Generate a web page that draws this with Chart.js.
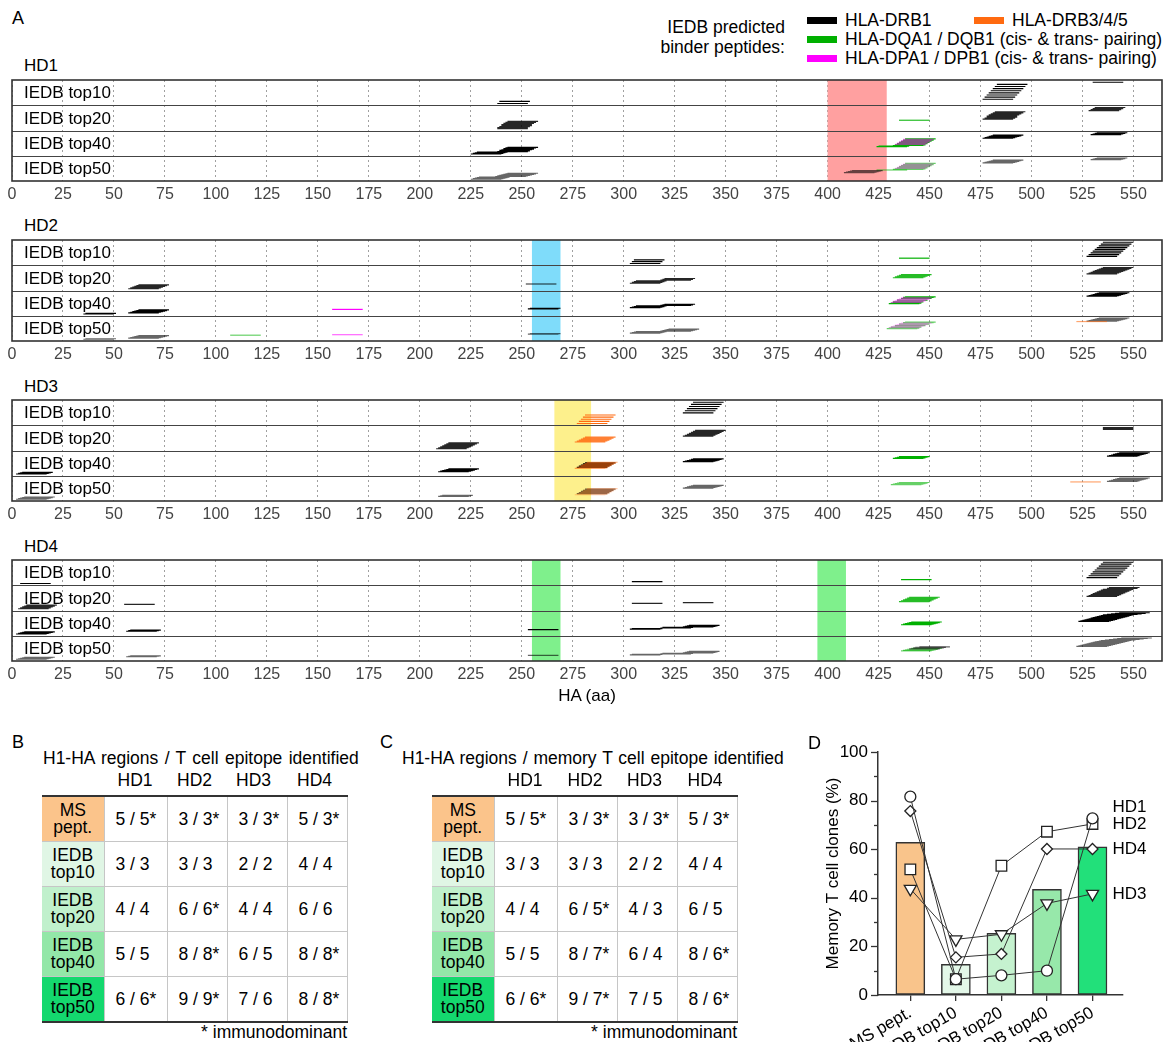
<!DOCTYPE html>
<html lang="en">
<head>
<meta charset="UTF-8" />
<title>HA peptide map</title>
<script src="https://cdn.jsdelivr.net/npm/chart.js@4.4.0/dist/chart.umd.min.js"></script>
<style>
  html, body { margin: 0; background: #fff; }
  body { font-family: "Liberation Sans", Arial, Helvetica, sans-serif; color: #000; }
  #page { position: relative; width: 1163px; height: 1042px; overflow: hidden; }
  .t { position: absolute; white-space: nowrap; line-height: 1; font-size: 17px; }
  .leg { font-size: 17.5px; }
  .letter { font-size: 18px; }
  .sw { position: absolute; width: 30px; height: 7px; }
  canvas { position: absolute; left: 0; }
  table.ep { position: absolute; border-collapse: collapse; table-layout: fixed; font-size: 17.5px; }
  table.ep td { border: 1px solid #c6c6c6; height: 44px; padding: 0 0 0 11px; text-align: left; white-space: nowrap; }
  table.ep td.rh { text-align: center; padding: 0; line-height: 17px; border-left: none; }
  table.ep tr:first-child td { border-top: 2px solid #333; }
  table.ep tr:last-child td { border-bottom: 2px solid #333; }
</style>
</head>
<body>
<div id="page">
  <div class="t letter" style="left:12px;top:9px">A</div>

  <div class="t leg" style="right:378px;top:18.5px">IEDB predicted</div>
  <div class="t leg" style="right:378px;top:38.5px">binder peptides:</div>
  <div class="sw" style="left:807px;top:16.5px;background:#000"></div>
  <div class="t leg" style="left:845px;top:11.5px">HLA-DRB1</div>
  <div class="sw" style="left:974px;top:16.5px;background:#ff6a10"></div>
  <div class="t leg" style="left:1012px;top:11.5px">HLA-DRB3/4/5</div>
  <div class="sw" style="left:807px;top:35.5px;background:#00b000"></div>
  <div class="t leg" style="left:845px;top:30.5px">HLA-DQA1 / DQB1 (cis- &amp; trans- pairing)</div>
  <div class="sw" style="left:807px;top:54.5px;background:#ff00ff"></div>
  <div class="t leg" style="left:845px;top:49.5px">HLA-DPA1 / DPB1 (cis- &amp; trans- pairing)</div>

  <div class="t" style="left:24px;top:56.5px">HD1</div>
  <div class="t" style="left:24px;top:216.5px">HD2</div>
  <div class="t" style="left:24px;top:377.5px">HD3</div>
  <div class="t" style="left:24px;top:537.5px">HD4</div>
  <canvas id="hd1" width="1163" height="139" style="top:70px"></canvas>
  <canvas id="hd2" width="1163" height="139" style="top:230px"></canvas>
  <canvas id="hd3" width="1163" height="139" style="top:390px"></canvas>
  <canvas id="hd4" width="1163" height="139" style="top:550px"></canvas>
  <div class="t" style="left:587px;top:686.5px;transform:translateX(-50%)">HA (aa)</div>

  <div class="t letter" style="left:12px;top:733px">B</div>
  <div class="t leg" style="left:43px;top:749.5px;word-spacing:1.5px">H1-HA regions / T cell epitope identified</div>
  <div id="headB"></div>
  <table class="ep" id="tableB" style="left:42px;top:795px"></table>
  <div class="t leg" style="right:816px;top:1023.5px">* immunodominant</div>

  <div class="t letter" style="left:380px;top:733px">C</div>
  <div class="t leg" style="left:402px;top:749.5px;word-spacing:1px">H1-HA regions / memory T cell epitope identified</div>
  <div id="headC"></div>
  <table class="ep" id="tableC" style="left:432px;top:795px"></table>
  <div class="t leg" style="right:426px;top:1023.5px">* immunodominant</div>

  <div class="t letter" style="left:808px;top:734px">D</div>
  <canvas id="panelD" width="373" height="400" style="left:790px;top:700px"></canvas>
</div>

<script>
// ---------- data ----------
const PEP_LEN = 15;
const AXIS_MAX = 564;
const ROW_NAMES = ['IEDB top10', 'IEDB top20', 'IEDB top40', 'IEDB top50'];

// each row: list of [allele class, peptide start positions]
const HD1_ROWS = [
  [['DRB1', [238, 239]], ['DRB1', [476, 477, 478, 479, 480, 481, 482, 483]], ['DRB1', [530]]],
  [['DRB1', [238, 238, 239, 240, 240, 241, 242, 243]], ['DQ', [435]], ['DRB1', [476, 477, 478, 478, 479, 480, 481, 482]], ['DRB1', [528, 529, 530, 531]]],
  [['DRB1', [225, 226, 227, 228, 238, 239, 239, 240, 241, 241, 242, 243]], ['DQ', [424, 425]], ['DQ', [432, 433, 434, 435, 436, 437, 438]], ['DP', [433, 434, 435, 436, 437]], ['DRB1', [476, 477, 478, 479, 480, 481]], ['DRB1', [529, 530, 531, 532]]],
  [['DRB1', [225, 226, 227, 228, 229, 237, 238, 239, 240, 241, 242, 243]], ['DRB1', [408, 409, 410, 411, 412]], ['DQ', [424]], ['DQ', [432, 433, 434, 435, 436, 437, 438]], ['DP', [433, 434, 435, 436, 437]], ['DRB1', [476, 477, 478, 479, 480, 481]], ['DRB1', [529, 530, 531, 532]]]
];
const HD2_ROWS = [
  [['DRB1', [303, 304, 305]], ['DQ', [435]], ['DRB1', [527, 528, 529, 530, 531, 532, 533, 534, 535]]],
  [['DRB1', [57, 58, 59, 60, 61, 62]], ['DRB1', [252]], ['DRB1', [303, 304, 305, 306, 318, 319, 320]], ['DQ', [432, 433, 434, 435, 436]], ['DRB1', [527, 528, 529, 530, 531, 532, 533, 534, 535]]],
  [['DRB1', [35, 36]], ['DRB1', [57, 58, 59, 60, 61, 62]], ['DP', [157]], ['DRB1', [253, 254]], ['DRB1', [303, 304, 305, 306, 318, 319, 320]], ['DQ', [430, 431, 432, 434, 436, 437, 438]], ['DP', [431, 432, 433, 434, 435, 436]], ['DRB1', [527, 528, 529, 530, 531, 532, 533]]],
  [['DRB1', [35, 36]], ['DRB1', [57, 58, 59, 60, 61, 62]], ['DQ', [107]], ['DP', [157]], ['DRB1', [253, 254]], ['DRB1', [303, 304, 305, 306, 318, 319, 320, 321, 322]], ['DQ', [429, 430, 431, 433, 435, 437, 438]], ['DP', [430, 431, 432, 433, 434, 435, 436]], ['DRB345', [522]], ['DRB1', [527, 528, 529, 530, 531, 532, 533]]]
];
const HD3_ROWS = [
  [['DRB345', [277, 278, 279, 280, 281]], ['DRB1', [329, 330, 331, 332, 333, 334]]],
  [['DRB1', [208, 209, 210, 211, 212, 213, 214]], ['DRB345', [276, 277, 278, 279, 280, 281]], ['DRB1', [329, 330, 331, 332, 333, 334, 335]], ['DRB1', [535, 535, 535]]],
  [['DRB1', [2, 3, 4, 5]], ['DRB1', [209, 210, 211, 212, 213, 214]], ['DRB345', [276, 277, 278, 279, 280, 281, 282]], ['DRB1', [277, 278, 279, 280, 281]], ['DRB1', [329, 330, 331, 332, 333, 334]], ['DQ', [432, 433, 434, 435]], ['DRB1', [537, 538, 539, 540, 541, 542, 543]]],
  [['DRB1', [2, 3, 4, 5, 6]], ['DRB1', [209, 210, 211]], ['DRB345', [276, 277, 278, 279, 280, 281, 282]], ['DRB1', [277, 278, 279, 280, 281]], ['DRB1', [329, 330, 331, 332, 333, 334]], ['DQ', [431, 432, 433, 434, 435]], ['DRB345', [519]], ['DRB1', [537, 538, 539, 540, 541, 542, 543]]]
];
const HD4_ROWS = [
  [['DRB1', [4]], ['DRB1', [304]], ['DQ', [436]], ['DRB1', [527, 528, 529, 530, 531, 532, 533, 534, 535]]],
  [['DRB1', [3, 4, 5, 6, 7]], ['DRB1', [55]], ['DRB1', [304]], ['DRB1', [329]], ['DQ', [435, 436, 437, 438, 439, 440]], ['DRB1', [527, 528, 529, 530, 531, 532, 533, 534, 535, 537, 538]]],
  [['DRB1', [2, 3, 4, 5, 6]], ['DRB1', [56, 57, 58]], ['DRB1', [253]], ['DRB1', [303, 304, 318, 319, 329, 330, 331, 332]], ['DQ', [436, 437, 438, 439, 440, 441]], ['DRB1', [523, 524, 525, 526, 527, 528, 529, 530, 531, 532, 533, 534, 535, 537, 539, 541, 543]]],
  [['DRB1', [2, 3, 4, 5, 6]], ['DRB1', [56, 57, 58]], ['DRB1', [253]], ['DRB1', [303, 304, 318, 319, 329, 330, 331, 332]], ['DQ', [436, 437, 438, 439, 441]], ['DRB1', [440, 442, 443, 445]], ['DRB1', [522, 523, 524, 525, 526, 527, 528, 529, 530, 531, 532, 533, 534, 536, 538, 540, 542, 544]]]
];
// identified epitope regions [start, end]
const HD1_REGIONS = [[400, 429]];
const HD2_REGIONS = [[255, 269]];
const HD3_REGIONS = [[266, 284]];
const HD4_REGIONS = [[255, 269], [395, 409]];

const TABLE_ROWS = ['MS<br>pept.', 'IEDB<br>top10', 'IEDB<br>top20', 'IEDB<br>top40', 'IEDB<br>top50'];
const TABLE_COLS = ['HD1', 'HD2', 'HD3', 'HD4'];
const TABLE_B = [
  ['5 / 5*', '3 / 3*', '3 / 3*', '5 / 3*'],
  ['3 / 3', '3 / 3', '2 / 2', '4 / 4'],
  ['4 / 4', '6 / 6*', '4 / 4', '6 / 6'],
  ['5 / 5', '8 / 8*', '6 / 5', '8 / 8*'],
  ['6 / 6*', '9 / 9*', '7 / 6', '8 / 8*']
];
const TABLE_C = [
  ['5 / 5*', '3 / 3*', '3 / 3*', '5 / 3*'],
  ['3 / 3', '3 / 3', '2 / 2', '4 / 4'],
  ['4 / 4', '6 / 5*', '4 / 3', '6 / 5'],
  ['5 / 5', '8 / 7*', '6 / 4', '8 / 6*'],
  ['6 / 6*', '9 / 7*', '7 / 5', '8 / 6*']
];

const D_CATS = ['MS pept.', 'IEDB top10', 'IEDB top20', 'IEDB top40', 'IEDB top50'];
const D_MEAN = [62.8, 12.6, 25.4, 43.5, 61.0];
const D_HD1 = [81.6, 6.5, 8.1, 10.0, 72.7];
const D_HD2 = [51.7, 6.5, 53.2, 67.2, 70.4];
const D_HD3 = [43.7, 22.9, 25.0, 37.7, 41.6];
const D_HD4 = [75.7, 15.5, 16.9, 60.1, 60.1];

// ---------- styles ----------
const FONT = '"Liberation Sans", Arial, Helvetica, sans-serif';
const CLASS_COLORS = { DRB1: '#000000', DRB345: '#ff6a10', DQ: '#00b000', DP: '#ff00ff' };
const CLASS_ORDER = { DP: 0, DRB345: 1, DRB1: 2, DQ: 3 };
const MIX_ALPHA = { DRB1: 1, DRB345: 0.6, DQ: 1, DP: 0.5 };   // where classes overlap
const ROW_ALPHA = [1, 0.85, 1, 0.6];
const HEADER_COLORS = ['#fbc48b', '#e0f6e5', '#c0f0cc', '#93e7a8', '#14d86e'];
const BAR_COLORS = ['#f9c48b', '#e3f7e8', '#c5f2cf', '#97e8aa', '#22e07a'];

Chart.defaults.font.family = FONT;
Chart.defaults.color = '#000';
Chart.defaults.animation = false;
Chart.defaults.plugins.legend.display = false;
Chart.defaults.plugins.tooltip.enabled = false;

function rgba(hex, a) {
  const n = parseInt(hex.slice(1), 16);
  return 'rgba(' + (n >> 16 & 255) + ',' + (n >> 8 & 255) + ',' + (n & 255) + ',' + a + ')';
}

function framePlugin(regions, regionColor) {
  return {
    id: 'frame',
    beforeDatasetsDraw(chart) {
      const { ctx, chartArea: a, scales: { x } } = chart;
      ctx.save();
      ctx.fillStyle = regionColor;
      regions.forEach(([s, e]) => {
        const x0 = x.getPixelForValue(s), x1 = x.getPixelForValue(e);
        ctx.fillRect(x0, a.top, x1 - x0, a.bottom - a.top);
      });
      ctx.restore();
    },
    afterDatasetsDraw(chart) {
      const { ctx, chartArea: a, scales: { y } } = chart;
      ctx.save();
      ctx.strokeStyle = '#444';
      ctx.lineWidth = 1.2;
      for (let v = 1; v <= 3; v++) {
        const py = Math.round(y.getPixelForValue(v)) + 0.5;
        ctx.beginPath(); ctx.moveTo(a.left, py); ctx.lineTo(a.right, py); ctx.stroke();
      }
      ctx.strokeStyle = '#333';
      ctx.lineWidth = 1.6;
      ctx.strokeRect(a.left, a.top, a.right - a.left, a.bottom - a.top);
      ctx.fillStyle = '#000';
      ctx.font = '17px ' + FONT;
      ctx.textBaseline = 'middle';
      ROW_NAMES.forEach((name, r) => ctx.fillText(name, a.left + 12, y.getPixelForValue(3.5 - r) + 1));
      ctx.restore();
    }
  };
}

function peptideChart(id, rows, regions, regionColor) {
  const datasets = [];
  rows.forEach((clusters, r) => {
    const peps = [];
    clusters.forEach(([cls, starts]) => starts.forEach(s => peps.push({ cls, s })));
    peps.sort((a, b) => a.s - b.s);
    const n = peps.length, groups = {};
    peps.forEach((p, i) => {
      // stacked by rank along the sequence, bottom to top of the row
      const y = 3 - r + 0.07 + 0.84 * (n > 1 ? i / (n - 1) : 0);
      const mixed = peps.some(q => q.cls !== p.cls && Math.abs(q.s - p.s) <= 3);
      const key = p.cls + (mixed ? '|mix' : '');
      (groups[key] = groups[key] || []).push({ x: p.s, y }, { x: p.s + PEP_LEN, y }, { x: p.s + PEP_LEN, y: null });
    });
    Object.keys(groups).forEach(key => {
      const [cls, mix] = key.split('|');
      datasets.push({
        data: groups[key], showLine: true, spanGaps: false, pointRadius: 0, borderWidth: 1.2,
        borderColor: rgba(CLASS_COLORS[cls], ROW_ALPHA[r] * (mix ? MIX_ALPHA[cls] : 1)),
        order: CLASS_ORDER[cls]
      });
    });
  });
  new Chart(document.getElementById(id), {
    type: 'scatter',
    data: { datasets },
    options: {
      responsive: false,
      devicePixelRatio: 1,
      layout: { padding: { left: 12, right: 1, top: 10, bottom: 0 } },
      scales: {
        x: {
          type: 'linear', min: 0, max: AXIS_MAX,
          afterFit: s => { s.height = 28; },
          ticks: { stepSize: 25, includeBounds: false, padding: 4, color: '#444', font: { size: 16 }, maxRotation: 0, autoSkip: false },
          grid: { color: '#a0a0a0', lineWidth: 1, drawTicks: false },
          border: { display: false, dash: [2, 3] }
        },
        y: { type: 'linear', min: 0, max: 4, display: false }
      }
    },
    plugins: [framePlugin(regions, regionColor)]
  });
}

peptideChart('hd1', HD1_ROWS, HD1_REGIONS, '#ffa0a0');
peptideChart('hd2', HD2_ROWS, HD2_REGIONS, '#7fdcfa');
peptideChart('hd3', HD3_ROWS, HD3_REGIONS, '#fdf08c');
peptideChart('hd4', HD4_ROWS, HD4_REGIONS, '#7ff08c');

// ---------- tables ----------
function buildTable(tableId, headId, values, headCenters) {
  const t = document.getElementById(tableId);
  t.innerHTML = '<colgroup><col style="width:62px"><col style="width:63px"><col style="width:60px"><col style="width:60px"><col style="width:60px"></colgroup>' +
    values.map((row, i) => '<tr><td class="rh" style="background:' + HEADER_COLORS[i] + '">' + TABLE_ROWS[i] + '</td>' +
      row.map(v => '<td>' + v + '</td>').join('') + '</tr>').join('');
  document.getElementById(headId).innerHTML = TABLE_COLS.map((c, i) =>
    '<div class="t leg" style="left:' + headCenters[i] + 'px;top:771.5px;transform:translateX(-50%)">' + c + '</div>').join('');
}
buildTable('tableB', 'headB', TABLE_B, [135, 194.5, 253.5, 314.5]);
buildTable('tableC', 'headC', TABLE_C, [525, 585, 644.5, 705]);

// ---------- panel D ----------
const SERIES = [
  { name: 'HD1', data: D_HD1, style: 'circle', radius: 5.5, rotation: 0, nudge: 4.5 },
  { name: 'HD2', data: D_HD2, style: 'rect', radius: 7.5, rotation: 0, nudge: 0 },
  { name: 'HD3', data: D_HD3, style: 'triangle', radius: 7, rotation: 180, nudge: 0 },
  { name: 'HD4', data: D_HD4, style: 'rectRot', radius: 5.5, rotation: 0, nudge: 0 }
];

const dPlugin = {
  id: 'dExtras',
  afterDraw(chart) {
    const { ctx, chartArea: a, scales: { x, y } } = chart;
    ctx.save();
    ctx.strokeStyle = '#333';
    ctx.lineWidth = 1.3;
    for (let v = 0; v <= 100; v += 10) {
      const py = Math.round(y.getPixelForValue(v)) + 0.5;
      const len = v % 20 === 0 ? 7 : 4;
      ctx.beginPath(); ctx.moveTo(a.left - len, py); ctx.lineTo(a.left, py); ctx.stroke();
    }
    ctx.fillStyle = '#000';
    ctx.font = '17px ' + FONT;
    ctx.textBaseline = 'middle';
    SERIES.forEach(s => {
      const last = s.data[s.data.length - 1];
      ctx.fillText(s.name, x.getPixelForValue(s.data.length - 1) + 20, y.getPixelForValue(last + s.nudge));
    });
    ctx.restore();
  }
};

new Chart(document.getElementById('panelD'), {
  type: 'bar',
  data: {
    datasets: SERIES.map((s, k) => ({
      type: 'line',
      data: s.data.map((v, i) => ({ x: i, y: v })),
      borderColor: '#333', borderWidth: 1,
      pointStyle: s.style, pointRadius: s.radius, pointRotation: s.rotation,
      pointBackgroundColor: '#fff', pointBorderColor: '#222', pointBorderWidth: 1.3,
      order: k
    })).concat([{
      type: 'bar',
      data: D_MEAN.map((v, i) => ({ x: i, y: v })),
      backgroundColor: BAR_COLORS, borderColor: '#333', borderWidth: 1.5,
      borderSkipped: false, barThickness: 29, order: 10
    }])
  },
  options: {
    responsive: false,
    devicePixelRatio: 1,
    layout: { padding: { left: 0, right: 40, top: 52, bottom: 0 } },
    scales: {
      x: {
        type: 'linear', min: -0.71, max: 4.67, offset: false,
        afterFit: s => { s.height = 105; },
        afterBuildTicks: s => { s.ticks = D_CATS.map((c, i) => ({ value: i })); },
        ticks: { callback: v => D_CATS[v], autoSkip: false, minRotation: 30, maxRotation: 30, font: { size: 17 }, color: '#000', padding: 2 },
        grid: { drawOnChartArea: false, drawTicks: true, tickLength: 6, color: '#333', lineWidth: 1.3, offset: false },
        border: { color: '#333', width: 1.5 }
      },
      y: {
        min: 0, max: 100,
        afterFit: s => { s.width = 88; },
        ticks: { stepSize: 10, callback: v => (v % 20 === 0 ? v : ''), font: { size: 17 }, color: '#000', padding: 10 },
        grid: { drawOnChartArea: false, drawTicks: false },
        border: { color: '#333', width: 1.5 },
        title: { display: true, text: 'Memory T cell clones (%)', font: { size: 17 }, color: '#000', padding: { top: 33, bottom: 0 } }
      }
    }
  },
  plugins: [dPlugin]
});
</script>
</body>
</html>
